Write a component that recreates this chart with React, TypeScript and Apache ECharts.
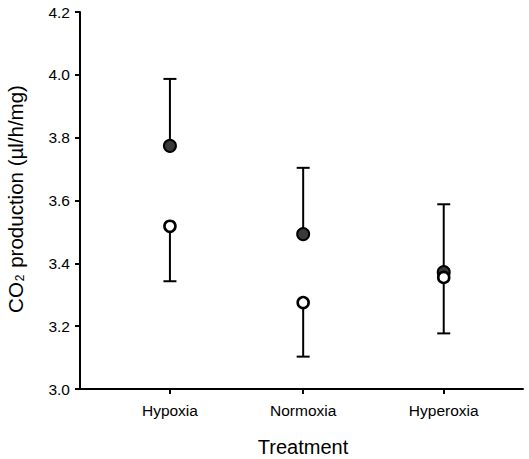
import React, { useEffect, useRef } from "react";
import * as echarts from "echarts";

const categories = ["Hypoxia", "Normoxia", "Hyperoxia"];
const catPositions = [1, 2, 3.055];
const filledMean = [3.774, 3.493, 3.372];
const filledUpper = [3.987, 3.704, 3.588];
const openMean = [3.518, 3.275, 3.355];
const openLower = [3.343, 3.103, 3.177];
const yTicks = { min: 3.0, max: 4.2, interval: 0.2 };

const FONT = "'Liberation Sans', Arial, Helvetica, sans-serif";

export default function App() {
  const ref = useRef<HTMLDivElement>(null);
  useEffect(() => {
    if (!ref.current) return;
    const chart = echarts.init(ref.current, undefined, { renderer: "svg" });

    const errData = [
      ...catPositions.map((x, i) => [x, filledMean[i], filledUpper[i]]),
      ...catPositions.map((x, i) => [x, openMean[i], openLower[i]]),
    ];

    const renderErr = (params: any, api: any) => {
      const x = api.value(0);
      const p0 = api.coord([x, api.value(1)]);
      const p1 = api.coord([x, api.value(2)]);
      const style = { stroke: "#000", lineWidth: 2 };
      return {
        type: "group",
        children: [
          { type: "line", shape: { x1: p0[0], y1: p0[1], x2: p1[0], y2: p1[1] }, style },
          { type: "line", shape: { x1: p1[0] - 6.5, y1: p1[1], x2: p1[0] + 6.5, y2: p1[1] }, style },
        ],
      };
    };

    chart.setOption({
      animation: false,
      backgroundColor: "#fff",
      grid: { left: 80, right: 6, top: 12, bottom: 70, containLabel: false },
      xAxis: {
        type: "value",
        min: 0.325,
        max: 3.65,
        splitLine: { show: false },
        axisLine: { show: true, lineStyle: { color: "#000", width: 2 } },
        axisTick: { show: true, customValues: catPositions, length: 5, lineStyle: { color: "#000", width: 2 } },
        axisLabel: {
          show: true,
          customValues: catPositions,
          margin: 13,
          color: "#000",
          fontSize: 15.5,
          fontFamily: FONT,
          formatter: (v: number) => {
            const idx = catPositions.findIndex((p) => Math.abs(p - v) < 1e-6);
            return idx >= 0 ? categories[idx] : "";
          },
        },
      },
      yAxis: {
        type: "value",
        min: yTicks.min,
        max: yTicks.max,
        interval: yTicks.interval,
        splitLine: { show: false },
        axisLine: { show: true, lineStyle: { color: "#000", width: 2 } },
        axisTick: { show: true, length: 5, lineStyle: { color: "#000", width: 2 } },
        axisLabel: {
          color: "#000",
          fontSize: 15.5,
          fontFamily: FONT,
          margin: 10,
          formatter: (v: number) => v.toFixed(1),
        },
      },
      graphic: [
        {
          type: "text",
          x: 14,
          y: 199,
          rotation: Math.PI / 2,
          style: {
            text: "{a|CO}{s|2}{a| production (µl/h/mg)}",
            align: "center",
            verticalAlign: "middle",
            fill: "#000",
            rich: {
              a: { fontSize: 20.5, fontFamily: FONT, fill: "#000", lineHeight: 24, verticalAlign: "bottom" },
              s: { fontSize: 12, fontFamily: FONT, fill: "#000", lineHeight: 24, verticalAlign: "bottom", padding: [0, 1, 0, 1] },
            },
          },
        },
        {
          type: "text",
          x: 303,
          y: 447,
          style: {
            text: "Treatment",
            align: "center",
            verticalAlign: "middle",
            fill: "#000",
            fontSize: 20,
            fontFamily: FONT,
          },
        },
      ],
      series: [
        {
          type: "custom",
          renderItem: renderErr,
          data: errData,
          encode: { x: 0, y: [1, 2] },
          z: 1,
        },
        {
          type: "scatter",
          data: catPositions.map((x, i) => [x, filledMean[i]]),
          symbol: "circle",
          symbolSize: 12,
          itemStyle: { color: "#3a3a3a", borderColor: "#000", borderWidth: 2, opacity: 1 },
          z: 3,
        },
        {
          type: "scatter",
          data: catPositions.map((x, i) => [x, openMean[i]]),
          symbol: "circle",
          symbolSize: 11,
          itemStyle: { color: "#fff", borderColor: "#000", borderWidth: 2.6, opacity: 1 },
          z: 4,
        },
      ],
    });
    return () => chart.dispose();
  }, []);
  return (
    <div
      ref={ref}
      style={{ position: "fixed", left: 0, top: 0, width: 529, height: 459 }}
    />
  );
}
